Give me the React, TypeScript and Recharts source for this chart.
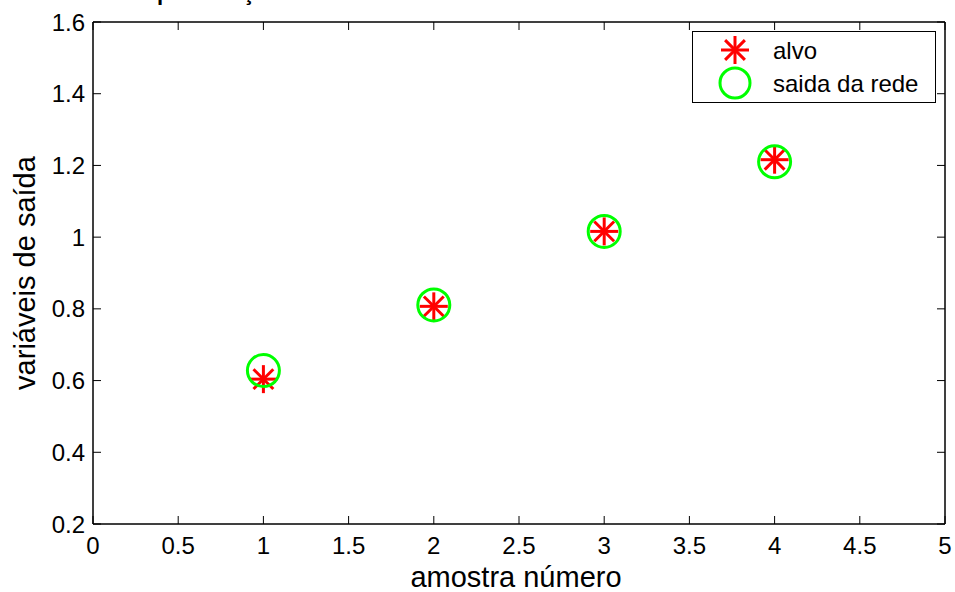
import React from 'react';
import { ScatterChart, Scatter, XAxis, YAxis, Legend, Label, ReferenceArea } from 'recharts';

const sampleNumbers = [1, 2, 3, 4];
const targetValues = [0.604, 0.807, 1.016, 1.216];
const outputValues = [0.628, 0.811, 1.016, 1.21];
const xTicks = [0, 0.5, 1, 1.5, 2, 2.5, 3, 3.5, 4, 4.5, 5];
const yTicks = [0.2, 0.4, 0.6, 0.8, 1, 1.2, 1.4, 1.6];
const seriesNames = ['alvo', 'saida da rede'];
const titleText = 'Aproximação da saída da rede';
const xLabelText = 'amostra número';
const yLabelText = 'variáveis de saída';

const targetData = sampleNumbers.map((x, i) => ({ x, y: targetValues[i] }));
const outputData = sampleNumbers.map((x, i) => ({ x, y: outputValues[i] }));

const FONT = '"Liberation Sans", Arial, Helvetica, sans-serif';
const RED = '#ff0000';
const GREEN = '#00ff00';

const Star = ({ cx, cy, r = 14 }: { cx: number; cy: number; r?: number }) => {
  const d = r * 0.7071;
  return (
    <g stroke={RED} strokeWidth={3} strokeLinecap="butt">
      <line x1={cx - r} y1={cy} x2={cx + r} y2={cy} />
      <line x1={cx} y1={cy - r} x2={cx} y2={cy + r} />
      <line x1={cx - d} y1={cy - d} x2={cx + d} y2={cy + d} />
      <line x1={cx - d} y1={cy + d} x2={cx + d} y2={cy - d} />
    </g>
  );
};

const StarShape = (props: any) => <Star cx={props.cx} cy={props.cy} />;
const CircleShape = (props: any) => (
  <circle cx={props.cx} cy={props.cy} r={16} fill="none" stroke={GREEN} strokeWidth={3} />
);
const NoTick = () => <g />;

const LegendBox = () => (
  <svg width={244} height={72} style={{ display: 'block' }}>
    <rect x={0.5} y={0.5} width={243} height={71} fill="#fff" stroke="#000" strokeWidth={1} />
    <Star cx={43} cy={19} />
    <circle cx={43} cy={52} r={15} fill="none" stroke={GREEN} strokeWidth={3} />
    <text x={81} y={28} fontFamily={FONT} fontSize={24} fill="#000">{seriesNames[0]}</text>
    <text x={81} y={61} fontFamily={FONT} fontSize={24} fill="#000">{seriesNames[1]}</text>
  </svg>
);

export default function App() {
  return (
    <div style={{ position: 'absolute', left: 0, top: 0, width: 955, height: 592, background: '#fff', fontFamily: FONT }}>
      <ScatterChart width={955} height={592} margin={{ top: 21, right: 9, bottom: 0, left: 0 }} style={{ background: '#fff' }}>
        <XAxis
          xAxisId="b"
          type="number"
          dataKey="x"
          domain={[0, 5]}
          ticks={xTicks}
          interval={0}
          orientation="bottom"
          height={68}
          tickSize={-8}
          tickMargin={21}
          stroke="#000"
          axisLine={{ stroke: '#000' }}
          tickLine={{ stroke: '#000' }}
          tick={{ fill: '#000', fontSize: 24, fontFamily: FONT }}
          allowDataOverflow
        >
          <Label
            content={(p: any) => {
              const vb = p.viewBox || { x: 93, width: 852 };
              return (
                <text x={vb.x + vb.width / 2 - 3} y={587} textAnchor="middle" fontFamily={FONT} fontSize={29} fill="#000">
                  {xLabelText}
                </text>
              );
            }}
          />
        </XAxis>
        <XAxis
          xAxisId="t"
          type="number"
          dataKey="x"
          domain={[0, 5]}
          ticks={xTicks}
          interval={0}
          orientation="top"
          height={1}
          tickSize={-8}
          tickMargin={0}
          stroke="#000"
          axisLine={{ stroke: '#000' }}
          tickLine={{ stroke: '#000' }}
          tick={NoTick}
          allowDataOverflow
        >
          <Label
            content={() => (
              <text x={141} y={0} fontFamily={FONT} fontWeight="bold" fontSize={22} fill="#000">
                {titleText}
              </text>
            )}
          />
        </XAxis>
        <YAxis
          yAxisId="l"
          type="number"
          dataKey="y"
          domain={[0.2, 1.6]}
          ticks={yTicks}
          interval={0}
          orientation="left"
          width={93}
          tickSize={-8}
          tickMargin={16}
          stroke="#000"
          axisLine={{ stroke: '#000' }}
          tickLine={{ stroke: '#000' }}
          tick={{ fill: '#000', fontSize: 24, fontFamily: FONT }}
          allowDataOverflow
        >
          <Label
            content={(p: any) => {
              const vb = p.viewBox || { y: 22, height: 502 };
              const cy = vb.y + vb.height / 2;
              return (
                <text x={35} y={cy} transform={`rotate(-90, 35, ${cy})`} textAnchor="middle" fontFamily={FONT} fontSize={29} fill="#000">
                  {yLabelText}
                </text>
              );
            }}
          />
        </YAxis>
        <YAxis
          yAxisId="r"
          type="number"
          dataKey="y"
          domain={[0.2, 1.6]}
          ticks={yTicks}
          interval={0}
          orientation="right"
          width={1}
          tickSize={-8}
          tickMargin={0}
          stroke="#000"
          axisLine={{ stroke: '#000' }}
          tickLine={{ stroke: '#000' }}
          tick={NoTick}
          allowDataOverflow
        />
        <ReferenceArea
          xAxisId="b"
          yAxisId="l"
          x1={0}
          x2={5}
          y1={0.2}
          y2={1.6}
          fill="none"
          fillOpacity={0}
          stroke="#000"
          strokeWidth={1}
          strokeOpacity={1}
          ifOverflow="visible"
        />
        <Scatter
          name={seriesNames[0]}
          xAxisId="b"
          yAxisId="l"
          data={targetData}
          shape={StarShape}
          isAnimationActive={false}
        />
        <Scatter
          name={seriesNames[1]}
          xAxisId="b"
          yAxisId="l"
          data={outputData}
          shape={CircleShape}
          isAnimationActive={false}
        />
        <Legend
          layout="vertical"
          align="center"
          verticalAlign="middle"
          wrapperStyle={{ position: 'absolute', left: 692, top: 31, width: 244, height: 72 }}
          content={() => <LegendBox />}
        />
      </ScatterChart>
    </div>
  );
}
